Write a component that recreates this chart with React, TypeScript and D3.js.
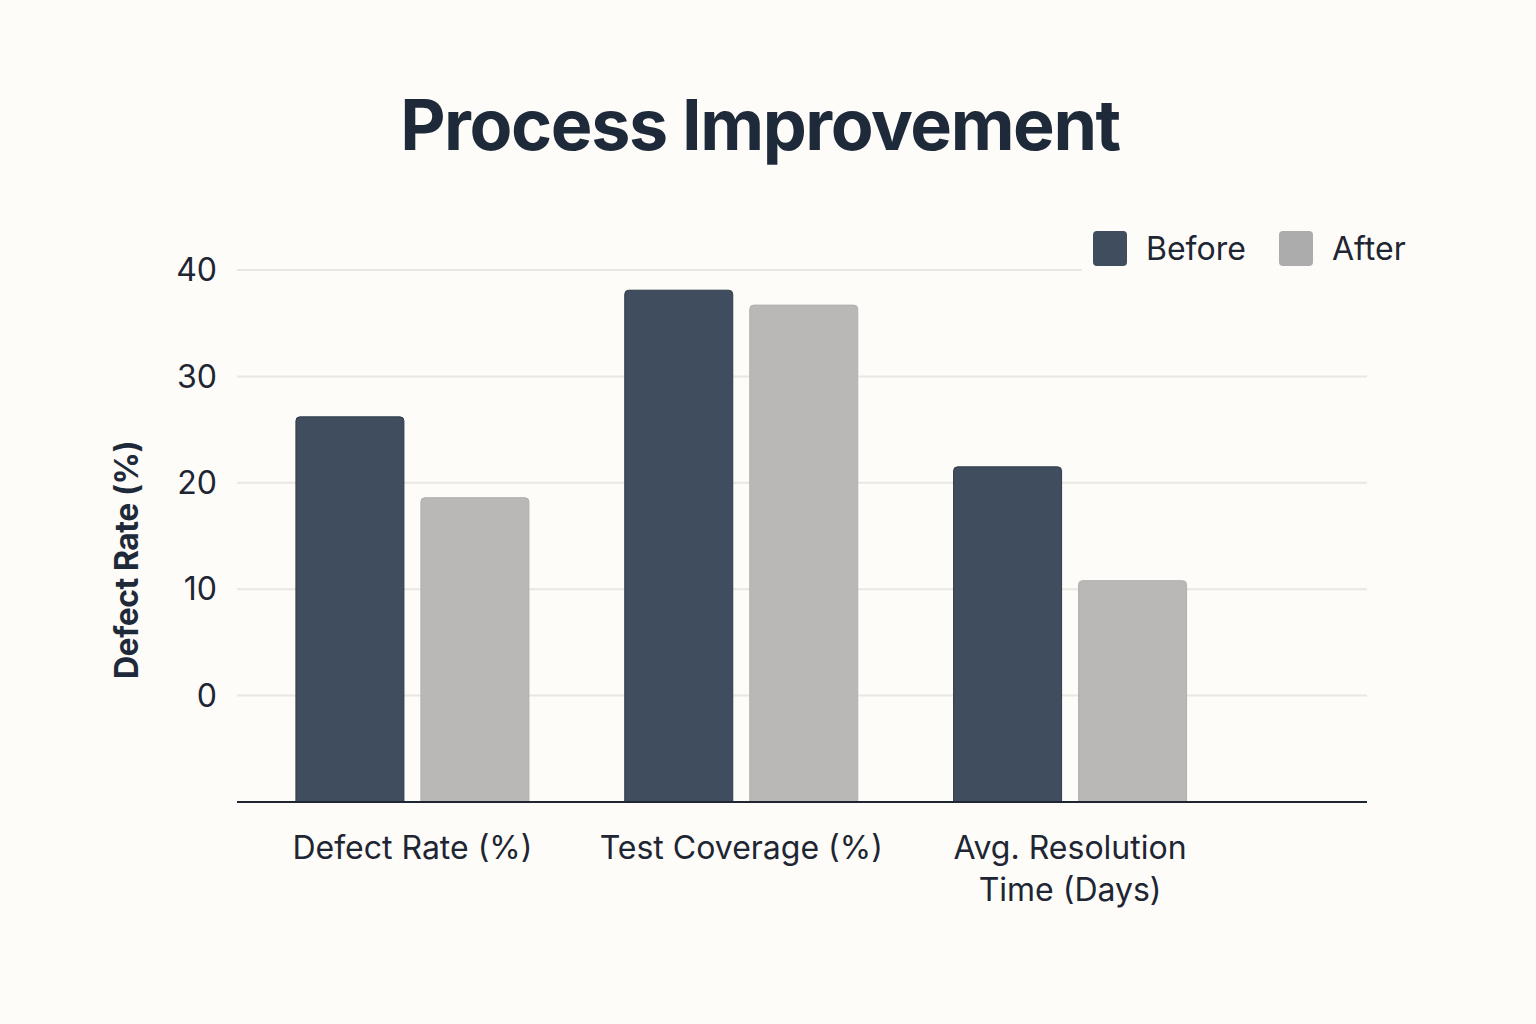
import React from "react";
import * as d3 from "d3";

const categories = ["Defect Rate (%)", "Test Coverage (%)", "Avg. Resolution Time (Days)"];
const categoryLines = [["Defect Rate (%)"], ["Test Coverage (%)"], ["Avg. Resolution", "Time (Days)"]];
const seriesNames = ["Before", "After"];
const beforeValues = [26.2, 38.1, 21.5];
const afterValues = [18.6, 36.7, 10.8];
const yTicks = [0, 10, 20, 30, 40];

const W = 1536;
const H = 1024;
const BG = "#fdfcf8";
const COLORS: Record<string, string> = { Before: "#3f4d5e", After: "#b9b8b7" };
const LEGEND_COLORS: Record<string, string> = { Before: "#3f4d5e", After: "#acacac" };
const FONT = "Inter, 'Noto Sans', sans-serif";

function topRoundedRect(x: number, y: number, w: number, h: number, r: number) {
  const rr = Math.min(r, w / 2, h);
  const p = d3.path();
  p.moveTo(x, y + h);
  p.lineTo(x, y + rr);
  p.arcTo(x, y, x + rr, y, rr);
  p.lineTo(x + w - rr, y);
  p.arcTo(x + w, y, x + w, y + rr, rr);
  p.lineTo(x + w, y + h);
  p.closePath();
  return p.toString();
}

export default function App() {
  const y = d3.scaleLinear().domain([-10, 40]).range([802, 270]);
  const x0 = d3.scaleBand<string>().domain(categories).range([248, 1234.5]).padding(0);
  const groupW = 233;
  const data = categories.map((c, i) => ({ cat: c, values: [beforeValues[i], afterValues[i]] }));

  return (
    <svg width={W} height={H} style={{ display: "block", position: "absolute", left: 0, top: 0 }}>
      <rect x={0} y={0} width={W} height={H} fill={BG} />
      <text x={760} y={150} textAnchor="middle" fontFamily={FONT} fontWeight={700} fontSize={70} letterSpacing={-1.4} fill="#1e2a3a">
        Process Improvement
      </text>

      {yTicks.map((t) => (
        <g key={t}>
          <line x1={237} x2={1367} y1={y(t)} y2={y(t)} stroke="#e9e7e2" strokeWidth={2} />
          <text x={217} y={y(t)} dy="0.35em" textAnchor="end" fontFamily={FONT} fontSize={32} fill="#1e2533">
            {t}
          </text>
        </g>
      ))}

      <text
        transform={`translate(138, 560) rotate(-90)`}
        textAnchor="middle"
        fontFamily={FONT}
        fontWeight={700}
        fontSize={32}
        letterSpacing={-0.5}
        fill="#1e2a3a"
      >
        Defect Rate (%)
      </text>

      {data.map((d, i) => {
        const cx = (x0(d.cat) as number) + x0.bandwidth() / 2;
        const x1 = d3
          .scaleBand<string>()
          .domain(seriesNames)
          .range([cx - groupW / 2, cx + groupW / 2])
          .paddingInner(17 / 125)
          .paddingOuter(0);
        return (
          <g key={d.cat}>
            {seriesNames.map((s, j) => {
              const v = d.values[j];
              const top = y(v);
              const bottom = y(-10);
              return (
                <path
                  key={s}
                  d={topRoundedRect(x1(s) as number, top, x1.bandwidth(), bottom - top, 4)}
                  fill={COLORS[s]}
                  stroke={j === 0 ? "#2f3b4a" : "#b0afae"}
                  strokeWidth={1}
                />
              );
            })}
            <text textAnchor="middle" fontFamily={FONT} fontSize={32} fill="#1e2533">
              {categoryLines[i].map((ln, k) => (
                <tspan key={k} x={cx} y={859 + k * 42}>
                  {ln}
                </tspan>
              ))}
            </text>
          </g>
        );
      })}

      <line x1={237} x2={1367} y1={802} y2={802} stroke="#1e2533" strokeWidth={2} />

      <rect x={1082} y={222} width={340} height={56} fill={BG} />
      {seriesNames.map((s, i) => {
        const lx = [1093, 1279][i];
        return (
          <g key={s}>
            <rect x={lx} y={231} width={34} height={35} rx={4} fill={LEGEND_COLORS[s]} />
            <text x={lx + 53} y={249} dy="0.35em" fontFamily={FONT} fontSize={32} fill="#1e2533">
              {s}
            </text>
          </g>
        );
      })}
    </svg>
  );
}
